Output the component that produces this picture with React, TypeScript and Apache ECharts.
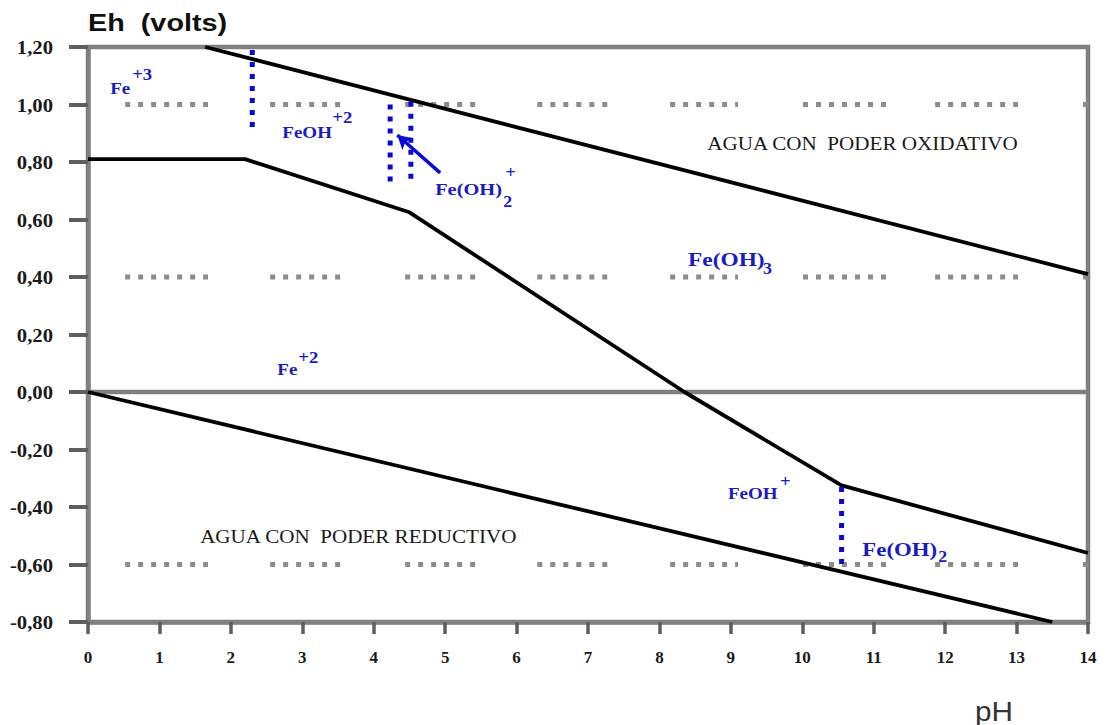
import React, { useEffect, useRef } from "react";
import * as echarts from "echarts";

// Eh–pH (Pourbaix) diagram for iron in water.

// Axis tick values
const phTicks = [0, 1, 2, 3, 4, 5, 6, 7, 8, 9, 10, 11, 12, 13, 14];
const ehTicks = [-0.8, -0.6, -0.4, -0.2, 0, 0.2, 0.4, 0.6, 0.8, 1.0, 1.2];

// Water stability limits: [pH, Eh]
const upperWaterLine: number[][] = [[1.64, 1.2], [14, 0.41]];
const lowerWaterLine: number[][] = [[0, 0], [13.5, -0.8]];

// Fe(II)/Fe(III) boundary: [pH, Eh]
const ironBoundary: number[][] = [
  [0, 0.81],
  [2.2, 0.81],
  [4.5, 0.625],
  [8.35, 0.0],
  [10.55, -0.325],
  [14, -0.56],
];

// Dotted blue dividers between dissolved species: pH, Eh top, Eh bottom
const dividerPH = [2.3, 4.23, 4.52, 10.55];
const dividerTop = [1.19, 1.0, 1.01, -0.33];
const dividerBottom = [0.91, 0.73, 0.73, -0.6];

// Reference Eh levels drawn as grey dotted runs, and the pH extent of each run
const referenceLevels = [1.0, 0.4, -0.6];
const runStart = [0.52, 2.55, 4.44, 6.29, 8.15, 10.01, 11.86, 13.93];
const runEnd = [1.68, 3.56, 5.45, 7.27, 9.1, 11.19, 13.02, 14];

// Species labels: base text, superscript, subscript, anchor [pH, Eh]
const speciesBase = ["Fe", "FeOH", "Fe(OH)", "Fe(OH)", "Fe", "FeOH", "Fe(OH)"];
const speciesSup = ["+3", "+2", "+", "", "+2", "+", ""];
const speciesSub = ["", "", "2", "3", "", "", "2"];
const speciesPH = [0.31, 2.72, 4.86, 8.4, 2.65, 8.96, 10.84];
const speciesEh = [1.057, 0.904, 0.706, 0.459, 0.08, -0.351, -0.55];

// Region captions
const regionText = ["AGUA CON \u00a0PODER OXIDATIVO", "AGUA CON \u00a0PODER REDUCTIVO"];
const regionPH = [8.67, 1.57];
const regionEh = [0.863, -0.501];

// Arrow pointing at the narrow Fe(OH)2+ field: [pH, Eh]
const arrowFrom = [4.93, 0.762];
const arrowTo = [4.33, 0.894];

const SERIF = "Liberation Serif";
const SANS = "Liberation Sans";
const BLUE = "#0a0ad8";
const LABEL_BLUE = "#1b1bc4";

export default function App() {
  const ref = useRef<HTMLDivElement>(null);

  useEffect(() => {
    if (!ref.current) return;
    const chart = echarts.init(ref.current, null, { renderer: "svg" });

    const series: any[] = [];

    referenceLevels.forEach((lvl) => {
      runStart.forEach((a, i) => {
        series.push({
          type: "line",
          data: [[a, lvl], [runEnd[i], lvl]],
          symbol: "none",
          silent: true,
          z: 1,
          lineStyle: { color: "#8c8c8c", width: 5, type: [5, 8], cap: "butt" },
        });
      });
    });

    series.push({
      type: "line",
      data: [[0, 0], [14, 0]],
      symbol: "none",
      silent: true,
      z: 2,
      lineStyle: { color: "#808080", width: 4.5 },
    });

    [upperWaterLine, lowerWaterLine, ironBoundary].forEach((d) => {
      series.push({
        type: "line",
        data: d,
        symbol: "none",
        silent: true,
        z: 3,
        lineStyle: { color: "#000", width: 3.8 },
      });
    });

    dividerPH.forEach((x, i) => {
      series.push({
        type: "line",
        data: [[x, dividerTop[i]], [x, dividerBottom[i]]],
        symbol: "none",
        silent: true,
        z: 4,
        lineStyle: { color: BLUE, width: 5, type: [5, 7], cap: "butt" },
      });
    });

    series.push({
      type: "line",
      data: [],
      silent: true,
      z: 5,
      markLine: {
        silent: true,
        symbol: ["none", "arrow"],
        symbolSize: [12, 14],
        label: { show: false },
        lineStyle: { color: BLUE, width: 3.5, type: "solid" },
        data: [[{ coord: arrowFrom }, { coord: arrowTo }]],
      },
    });

    chart.setOption({
      animation: false,
      backgroundColor: "#fff",
      grid: {
        left: 88,
        right: 19,
        top: 47,
        bottom: 103,
        show: true,
        borderColor: "#808080",
        borderWidth: 4.5,
      },
      xAxis: {
        type: "value",
        min: 0,
        max: 14,
        interval: 1,
        splitLine: { show: false },
        axisLine: { show: true, onZero: false, lineStyle: { color: "#808080", width: 4.5 } },
        axisTick: { show: true, length: 12, lineStyle: { color: "#5e5e5e", width: 3.5 } },
        axisLabel: { show: false },
      },
      yAxis: {
        type: "value",
        min: -0.8,
        max: 1.2,
        interval: 0.2,
        splitLine: { show: false },
        axisLine: { show: true, onZero: false, lineStyle: { color: "#808080", width: 4.5 } },
        axisTick: { show: true, length: 19, lineStyle: { color: "#5e5e5e", width: 4 } },
        axisLabel: { show: false },
      },
      series,
    });

    const px = (x: number, y: number) =>
      chart.convertToPixel({ gridIndex: 0 }, [x, y]) as number[];

    const graphic: any[] = [];

    const text = (
      s: string,
      x: number,
      y: number,
      opts: {
        size: number;
        family: string;
        weight?: string;
        color: string;
        sx?: number;
        align?: string;
      }
    ) => ({
      type: "text",
      x,
      y,
      scaleX: opts.sx ?? 1,
      silent: true,
      z: 10,
      style: {
        text: s,
        x: 0,
        y: 0,
        fill: opts.color,
        fontFamily: opts.family,
        fontWeight: opts.weight ?? "normal",
        fontSize: opts.size,
        textAlign: opts.align ?? "left",
        textVerticalAlign: "middle",
      },
    });

    // Tick labels
    phTicks.forEach((v) => {
      const [x] = px(v, -0.8);
      graphic.push(
        text(String(v), x, 657, { size: 17, family: SERIF, weight: "bold", color: "#1a1a1a", align: "center" })
      );
    });
    ehTicks.forEach((v) => {
      const [, y] = px(0, v);
      const n = Math.abs(v) < 1e-9 ? 0 : v;
      graphic.push(
        text(n.toFixed(2).replace(".", ","), 53, y + 1, {
          size: 18,
          family: SERIF,
          weight: "bold",
          color: "#1a1a1a",
          sx: 1.15,
          align: "right",
        })
      );
    });

    // Offsets (px) of the superscript/subscript relative to the base text's left edge
    const supDX = [22, 50, 70, 0, 21, 52, 0];
    const supDY = [-14, -15, -17, 0, -12, -12, 0];
    const subDX = [0, 0, 68, 75, 0, 0, 76];
    const subDY = [0, 0, 12, 8, 0, 0, 6];
    const baseSize = [17, 17, 17, 18, 17, 17, 18];
    const baseScale = [1.12, 1.12, 1.2, 1.3, 1.12, 1.12, 1.27];

    speciesBase.forEach((b, i) => {
      const [x, y] = px(speciesPH[i], speciesEh[i]);
      graphic.push(
        text(b, x, y, { size: baseSize[i], family: SERIF, weight: "bold", color: LABEL_BLUE, sx: baseScale[i] })
      );
      if (speciesSup[i]) {
        graphic.push(
          text(speciesSup[i], x + supDX[i], y + supDY[i], {
            size: 17,
            family: SERIF,
            weight: "bold",
            color: LABEL_BLUE,
            sx: 1.1,
          })
        );
      }
      if (speciesSub[i]) {
        graphic.push(
          text(speciesSub[i], x + subDX[i], y + subDY[i], {
            size: 17,
            family: SERIF,
            weight: "bold",
            color: LABEL_BLUE,
            sx: 1.05,
          })
        );
      }
    });

    regionText.forEach((t, i) => {
      const [x, y] = px(regionPH[i], regionEh[i]);
      graphic.push(text(t, x, y, { size: 18.5, family: SERIF, color: "#1a1a1a", sx: 1.14 }));
    });

    graphic.push(
      text("Eh  (volts)", 88, 23, { size: 24, family: SANS, weight: "bold", color: "#111", sx: 1.2 })
    );
    graphic.push(text("pH", 975, 711, { size: 27, family: SANS, color: "#333", sx: 1.1 }));

    chart.setOption({ graphic });

    return () => chart.dispose();
  }, []);

  return (
    <div
      ref={ref}
      style={{ position: "absolute", left: 0, top: 0, width: 1107, height: 725, background: "#fff" }}
    />
  );
}
